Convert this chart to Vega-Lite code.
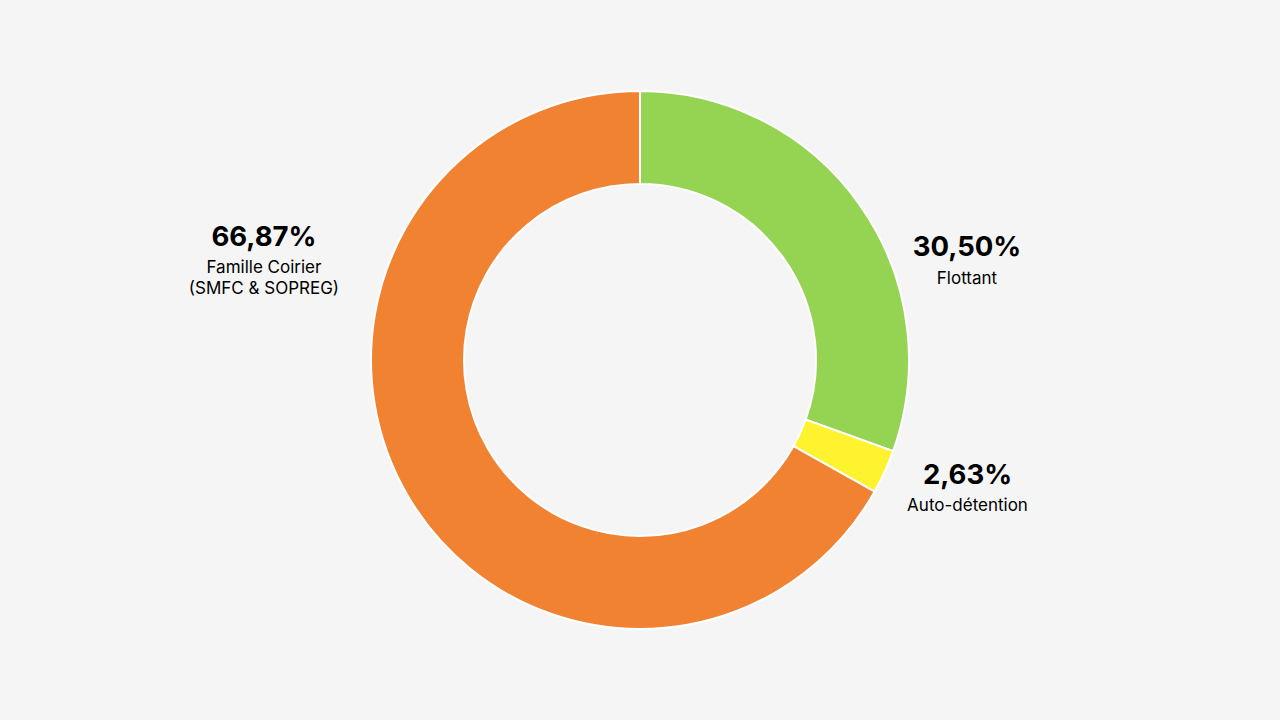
{
  "$schema": "https://vega.github.io/schema/vega-lite/v6.json",
  "width": 1280,
  "height": 720,
  "autosize": {"type": "none"},
  "padding": 0,
  "background": "#f5f5f5",
  "config": {"view": {"stroke": null}, "text": {"font": "Inter"}},
  "data": {
    "values": [
      {"cat": "Flottant", "value": 30.50, "pct": "30,50%", "label": "Flottant", "ord": 1},
      {"cat": "Auto-détention", "value": 2.63, "pct": "2,63%", "label": "Auto-détention", "ord": 2},
      {"cat": "Famille Coirier", "value": 66.87, "pct": "66,87%", "label": "Famille Coirier\n(SMFC & SOPREG)", "ord": 3}
    ]
  },
  "encoding": {
    "theta": {"field": "value", "type": "quantitative", "stack": true},
    "order": {"field": "ord", "type": "quantitative"}
  },
  "layer": [
    {
      "mark": {"type": "arc", "outerRadius": 269, "innerRadius": 176, "stroke": "#ffffff", "strokeWidth": 2},
      "encoding": {
        "color": {
          "field": "cat", "type": "nominal", "legend": null,
          "scale": {"domain": ["Flottant", "Auto-détention", "Famille Coirier"], "range": ["#95d352", "#fff22e", "#f08232"]},
          "sort": null
        }
      }
    },
    {
      "mark": {"type": "text", "radius": 300, "fontSize": 27.5, "fontWeight": "bold", "align": "center", "baseline": "alphabetic", "dx": 81.5, "dy": 68.5, "color": "#000000"},
      "encoding": {"text": {"condition": {"test": "datum.cat === 'Flottant'", "field": "pct"}, "value": ""}}
    },
    {
      "mark": {"type": "text", "radius": 300, "fontSize": 17, "align": "center", "baseline": "alphabetic", "dx": 81.5, "dy": 96.5, "color": "#000000"},
      "encoding": {"text": {"condition": {"test": "datum.cat === 'Flottant'", "field": "label"}, "value": ""}}
    },
    {
      "mark": {"type": "text", "radius": 300, "fontSize": 27.5, "fontWeight": "bold", "align": "center", "baseline": "alphabetic", "dx": 54.6, "dy": -0.6, "color": "#000000"},
      "encoding": {"text": {"condition": {"test": "datum.cat === 'Auto-détention'", "field": "pct"}, "value": ""}}
    },
    {
      "mark": {"type": "text", "radius": 300, "fontSize": 17, "align": "center", "baseline": "alphabetic", "dx": 54.6, "dy": 26.4, "color": "#000000"},
      "encoding": {"text": {"condition": {"test": "datum.cat === 'Auto-détention'", "field": "label"}, "value": ""}}
    },
    {
      "mark": {"type": "text", "radius": 300, "fontSize": 27.5, "fontWeight": "bold", "align": "center", "baseline": "alphabetic", "dx": -117.2, "dy": -265.7, "color": "#000000"},
      "encoding": {"text": {"condition": {"test": "datum.cat === 'Famille Coirier'", "field": "pct"}, "value": ""}}
    },
    {
      "mark": {"type": "text", "radius": 300, "fontSize": 17, "align": "center", "baseline": "alphabetic", "lineBreak": "\n", "lineHeight": 21, "dx": -117.2, "dy": -238.7, "color": "#000000"},
      "encoding": {"text": {"condition": {"test": "datum.cat === 'Famille Coirier'", "field": "label"}, "value": ""}}
    }
  ]
}
